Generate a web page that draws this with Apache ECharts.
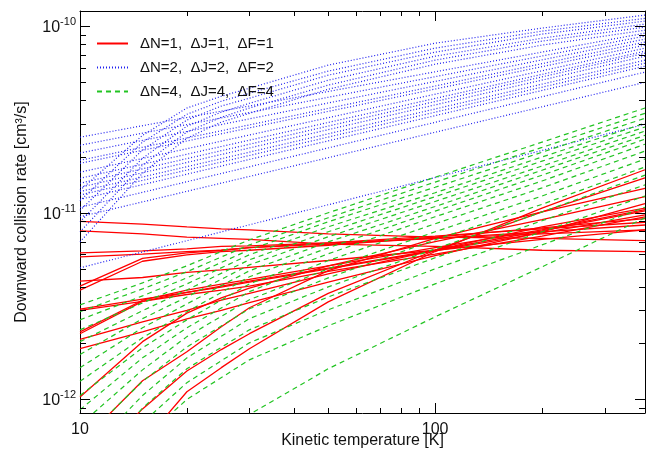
<!DOCTYPE html>
<html><head><meta charset="utf-8">
<script src="https://cdn.jsdelivr.net/npm/echarts@6/dist/echarts.min.js"></script>
<style>html,body{margin:0;padding:0;background:#fff}#c{width:647px;height:452px}</style>
</head><body><div id="c"></div><script>
// ---------- data ----------
const N1 = 'ΔN=1,  ΔJ=1,  ΔF=1';
const N2 = 'ΔN=2,  ΔJ=2,  ΔF=2';
const N3 = 'ΔN=4,  ΔJ=4,  ΔF=4';

// ΔN=1 (red, solid)
const redTemps = [10, 15, 20, 25, 30, 50, 100, 200, 390];
const red01 = [9.0e-12, 8.7e-12, 8.4e-12, 8.2e-12, 8.1e-12, 7.7e-12, 7.4e-12, 7.3e-12, 7.1e-12];
const red02 = [8.0e-12, 7.7e-12, 7.4e-12, 7.3e-12, 7.2e-12, 6.8e-12, 6.6e-12, 6.3e-12, 6.2e-12];
const red03 = [6.1e-12, 6.25e-12, 6.4e-12, 6.6e-12, 6.65e-12, 6.9e-12, 7.3e-12, 7.7e-12, 8.1e-12];
const red04 = [5.8e-12, 6.0e-12, 6.2e-12, 6.3e-12, 6.5e-12, 6.8e-12, 7.3e-12, 7.9e-12, 8.6e-12];
const red05 = [4.3e-12, 4.5e-12, 4.8e-12, 4.95e-12, 5.1e-12, 5.55e-12, 6.3e-12, 7.2e-12, 8.1e-12];
const red06 = [4.05e-12, 5.7e-12, 6.1e-12, 6.3e-12, 6.5e-12, 6.9e-12, 7.5e-12, 8.2e-12, 8.9e-12];
const red07 = [3.85e-12, 5.5e-12, 5.95e-12, 6.2e-12, 6.3e-12, 6.7e-12, 7.4e-12, 8.3e-12, 9.3e-12];
const red08 = [3.05e-12, 3.45e-12, 3.75e-12, 4.0e-12, 4.25e-12, 5.0e-12, 6.25e-12, 7.8e-12, 9.75e-12];
const red09 = [3.0e-12, 3.35e-12, 3.65e-12, 3.85e-12, 4.05e-12, 4.85e-12, 6.0e-12, 7.5e-12, 9.5e-12];
const red10 = [2.3e-12, 3.4e-12, 3.85e-12, 4.15e-12, 4.4e-12, 5.2e-12, 6.5e-12, 8.1e-12, 1.04e-11];
const red11 = [2.25e-12, 3.35e-12, 3.75e-12, 4.05e-12, 4.3e-12, 5.05e-12, 6.3e-12, 8.0e-12, 1.025e-11];
const red12 = [2.1e-12, 2.6e-12, 3.0e-12, 3.4e-12, 3.7e-12, 4.7e-12, 6.3e-12, 8.4e-12, 1.06e-11];
const red13 = [1.87e-12, 2.3e-12, 2.7e-12, 3.0e-12, 3.3e-12, 4.25e-12, 5.9e-12, 7.9e-12, 1.12e-11];
const red14 = [1.03e-12, 2.04e-12, 2.9e-12, 3.5e-12, 3.95e-12, 5.2e-12, 7.0e-12, 9.2e-12, 1.22e-11];
const red15 = [5.8e-13, 1.26e-12, 1.8e-12, 2.45e-12, 3.1e-12, 4.9e-12, 7.3e-12, 1.01e-11, 1.35e-11];
const red16 = [4.1e-13, 8.9e-13, 1.42e-12, 1.85e-12, 2.25e-12, 3.7e-12, 6.3e-12, 1.01e-11, 1.54e-11];
const red17 = [2.4e-13, 5.8e-13, 1.1e-12, 1.48e-12, 1.87e-12, 3.33e-12, 6.2e-12, 1.06e-11, 1.70e-11];

// ΔN=2 (blue, dotted): curved lines rising steeply at low T
const blueSteepTemps = [10, 15, 20, 25, 30, 50, 100, 200, 390];
const blueSteep1 = [1.32e-11, 2.6e-11, 3.64e-11, 4.21e-11, 4.65e-11, 6.18e-11, 8.1e-11, 9.76e-11, 1.146e-10];
const blueSteep2 = [1.16e-11, 2.39e-11, 3.37e-11, 3.96e-11, 4.37e-11, 5.74e-11, 7.62e-11, 9.4e-11, 1.10e-10];
const blueSteep3 = [1.03e-11, 2.17e-11, 3.14e-11, 3.73e-11, 4.11e-11, 5.46e-11, 7.25e-11, 9.06e-11, 1.064e-10];
const blueSteep4 = [8.95e-12, 1.96e-11, 2.91e-11, 3.46e-11, 3.86e-11, 5.13e-11, 6.9e-11, 8.62e-11, 1.025e-10];
const blueSteep5 = [7.9e-12, 1.80e-11, 2.71e-11, 3.25e-11, 3.64e-11, 4.83e-11, 6.57e-11, 8.31e-11, 9.88e-11];
const blueSteep6 = [6.98e-12, 1.63e-11, 2.51e-11, 3.06e-11, 3.41e-11, 4.59e-11, 6.25e-11, 7.91e-11, 9.51e-11];
// ΔN=2 (blue, dotted): straight lines, value at T=10 K and at T=390 K
const blueStraightTemps = [10, 390];
const blueStraightAt10  = [2.54e-11, 2.30e-11, 2.09e-11, 1.91e-11, 1.84e-11, 1.65e-11, 1.53e-11, 1.44e-11, 1.37e-11, 1.30e-11, 1.245e-11, 1.18e-11, 1.07e-11, 9.52e-12, 5.07e-12];
const blueStraightAt390 = [9.17e-11, 8.84e-11, 8.52e-11, 8.21e-11, 7.91e-11, 7.62e-11, 7.34e-11, 7.16e-11, 6.9e-11, 6.57e-11, 6.33e-11, 6.1e-11, 5.67e-11, 5.0e-11, 2.98e-11];

// ΔN=4 (green, dashed)
const greenTemps = [10, 15, 20, 30, 50, 100, 200, 390];
const green01 = [3.21e-12, 4.21e-12, 5.2e-12, 7.16e-12, 1.0e-11, 1.55e-11, 2.39e-11, 3.64e-11];
const green02 = [2.95e-12, 3.91e-12, 4.83e-12, 6.73e-12, 9.4e-12, 1.46e-11, 2.24e-11, 3.41e-11];
const green03 = [2.67e-12, 3.59e-12, 4.48e-12, 6.33e-12, 8.95e-12, 1.37e-11, 2.11e-11, 3.21e-11];
const green04 = [2.36e-12, 3.29e-12, 4.16e-12, 5.96e-12, 8.41e-12, 1.28e-11, 1.99e-11, 3.02e-11];
const green05 = [2.04e-12, 2.99e-12, 3.86e-12, 5.6e-12, 7.91e-12, 1.22e-11, 1.89e-11, 2.88e-11];
const green06 = [1.74e-12, 2.71e-12, 3.54e-12, 5.26e-12, 7.44e-12, 1.15e-11, 1.78e-11, 2.74e-11];
const green07 = [1.48e-12, 2.42e-12, 3.25e-12, 4.89e-12, 6.98e-12, 1.08e-11, 1.69e-11, 2.6e-11];
const green08 = [1.25e-12, 2.14e-12, 2.95e-12, 4.54e-12, 6.49e-12, 1.02e-11, 1.59e-11, 2.48e-11];
const green09 = [1.05e-12, 1.89e-12, 2.67e-12, 4.16e-12, 6.03e-12, 9.52e-12, 1.48e-11, 2.33e-11];
const green10 = [8.8e-13, 1.67e-12, 2.42e-12, 3.78e-12, 5.55e-12, 8.73e-12, 1.36e-11, 2.14e-11];
const green11 = [7.3e-13, 1.44e-12, 2.17e-12, 3.42e-12, 5.01e-12, 7.91e-12, 1.23e-11, 1.94e-11];
const green12 = [5.9e-13, 1.25e-12, 1.91e-12, 3.06e-12, 4.48e-12, 7.16e-12, 1.11e-11, 1.76e-11];
const green13 = [4.7e-13, 1.05e-12, 1.67e-12, 2.71e-12, 4.01e-12, 6.41e-12, 1.01e-11, 1.59e-11];
const green14 = [3.7e-13, 9.0e-13, 1.46e-12, 2.36e-12, 3.54e-12, 5.74e-12, 9.06e-12, 1.41e-11];
const green15 = [2.7e-13, 7.5e-13, 1.23e-12, 2.01e-12, 3.02e-12, 5.01e-12, 7.91e-12, 1.23e-11];
const green16 = [2.0e-13, 6.1e-13, 1.0e-12, 1.63e-12, 2.48e-12, 4.16e-12, 6.73e-12, 1.07e-11];
const green17 = [9.5e-14, 2.9e-13, 4.85e-13, 8.3e-13, 1.46e-12, 2.77e-12, 5.13e-12, 9.4e-12];

// axis ranges and minor tick positions
const X_MIN = 10, X_MAX = 390;
const Y_MIN = 8.46e-13, Y_MAX = 1.205e-10;
const xMinorTicks = [20, 30, 40, 50, 60, 70, 80, 90, 200, 300];
const yMinorTicks = [9e-13, 2e-12, 3e-12, 4e-12, 5e-12, 6e-12, 7e-12, 8e-12, 9e-12,
                     2e-11, 3e-11, 4e-11, 5e-11, 6e-11, 7e-11, 8e-11, 9e-11];

// ---------- chart ----------
const FONT = '"Liberation Sans", Arial, Helvetica, sans-serif';
const RED = '#ff0000', BLUE = '#2020f0', GREEN = '#22c422';
const pairs = (ts, vs) => ts.map((t, i) => [t, vs[i]]);
const series = [];
function addLine(name, data, color, type, width) {
  series.push({ name, type: 'line', data, symbol: 'none', showSymbol: false, silent: true,
    clip: true, lineStyle: { color, width, type }, itemStyle: { color }, z: 2 });
}
[red01, red02, red03, red04, red05, red06, red07, red08, red09, red10, red11, red12, red13, red14, red15, red16, red17]
  .forEach(v => addLine(N1, pairs(redTemps, v), RED, 'solid', 1.3));
[blueSteep1, blueSteep2, blueSteep3, blueSteep4, blueSteep5, blueSteep6]
  .forEach(v => addLine(N2, pairs(blueSteepTemps, v), BLUE, [1, 2], 1.2));
blueStraightAt10.forEach((v, i) => addLine(N2, pairs(blueStraightTemps, [v, blueStraightAt390[i]]), BLUE, [1, 2], 1.2));
[green01, green02, green03, green04, green05, green06, green07, green08, green09, green10, green11, green12, green13, green14, green15, green16, green17]
  .forEach(v => addLine(N3, pairs(greenTemps, v), GREEN, [5, 4], 1.2));

const isDecade = v => { const l = Math.log10(v); return Math.abs(l - Math.round(l)) < 1e-6; };
const axisLine = { show: true, onZero: false, lineStyle: { color: '#000', width: 1 } };
const majorTick = { show: true, inside: true, length: 10, lineStyle: { color: '#000', width: 1 } };

const option = {
  animation: false,
  backgroundColor: '#fff',
  grid: { left: 80, right: 2, top: 11, bottom: 39, containLabel: false, outerBoundsMode: 'none' },
  legend: {
    data: [N1, N2, N3], orient: 'vertical', left: 91, top: 31,
    itemWidth: 31, itemHeight: 14, itemGap: 9, selectedMode: false,
    itemStyle: { opacity: 0 },
    textStyle: { fontFamily: FONT, fontSize: 15, color: '#111', padding: [0, 0, 0, 7] }
  },
  xAxis: [
    { type: 'log', logBase: 10, min: X_MIN, max: X_MAX, position: 'bottom',
      axisLine, axisTick: majorTick, splitLine: { show: false },
      axisLabel: { margin: 9, fontFamily: FONT, fontSize: 16, color: '#111',
        formatter: v => isDecade(v) ? String(Math.round(v)) : '' },
      name: 'Kinetic temperature [K]', nameLocation: 'middle', nameGap: 20, nameMoveOverlap: false,
      nameTextStyle: { fontFamily: FONT, fontSize: 16, color: '#111' } },
    { type: 'log', logBase: 10, min: X_MIN, max: X_MAX, position: 'top',
      axisLine, axisTick: majorTick, splitLine: { show: false }, axisLabel: { show: false } }
  ],
  yAxis: [
    { type: 'log', logBase: 10, min: Y_MIN, max: Y_MAX, position: 'left',
      axisLine, axisTick: majorTick, splitLine: { show: false },
      axisLabel: { margin: 4, fontFamily: FONT, color: '#111',
        formatter: v => isDecade(v) ? '{b|10}{s|' + Math.round(Math.log10(v)) + '}' : '',
        rich: { b: { fontFamily: FONT, fontSize: 16, color: '#111', verticalAlign: 'bottom' },
                s: { fontFamily: FONT, fontSize: 11, color: '#111', verticalAlign: 'bottom', padding: [0, 0, 8, 0] } } },
      name: 'Downward collision rate [cm³/s]', nameLocation: 'middle', nameGap: 50, nameMoveOverlap: false,
      nameTextStyle: { fontFamily: FONT, fontSize: 16, color: '#111' } },
    { type: 'log', logBase: 10, min: Y_MIN, max: Y_MAX, position: 'right',
      axisLine, axisTick: majorTick, splitLine: { show: false }, axisLabel: { show: false } }
  ],
  series
};
const chart = echarts.init(document.getElementById('c'), null, { renderer: 'canvas' });
chart.setOption(option);

// minor ticks on all four sides, positioned through the axes' own scales
const px = v => Math.round(v) + 0.5;
const cs = { xAxisIndex: 0, yAxisIndex: 0 };
const tickStyle = { stroke: '#000', lineWidth: 1 };
const minor = [];
xMinorTicks.forEach(v => {
  const b = chart.convertToPixel(cs, [v, Y_MIN]);
  const t = chart.convertToPixel(cs, [v, Y_MAX]);
  minor.push({ type: 'line', silent: true, z: 100, shape: { x1: px(b[0]), y1: b[1], x2: px(b[0]), y2: b[1] - 5 }, style: tickStyle });
  minor.push({ type: 'line', silent: true, z: 100, shape: { x1: px(t[0]), y1: t[1], x2: px(t[0]), y2: t[1] + 5 }, style: tickStyle });
});
yMinorTicks.forEach(v => {
  const l = chart.convertToPixel(cs, [X_MIN, v]);
  const r = chart.convertToPixel(cs, [X_MAX, v]);
  minor.push({ type: 'line', silent: true, z: 100, shape: { x1: l[0], y1: px(l[1]), x2: l[0] + 6, y2: px(l[1]) }, style: tickStyle });
  minor.push({ type: 'line', silent: true, z: 100, shape: { x1: r[0], y1: px(r[1]), x2: r[0] - 6, y2: px(r[1]) }, style: tickStyle });
});
chart.setOption({ graphic: minor });
</script></body></html>
